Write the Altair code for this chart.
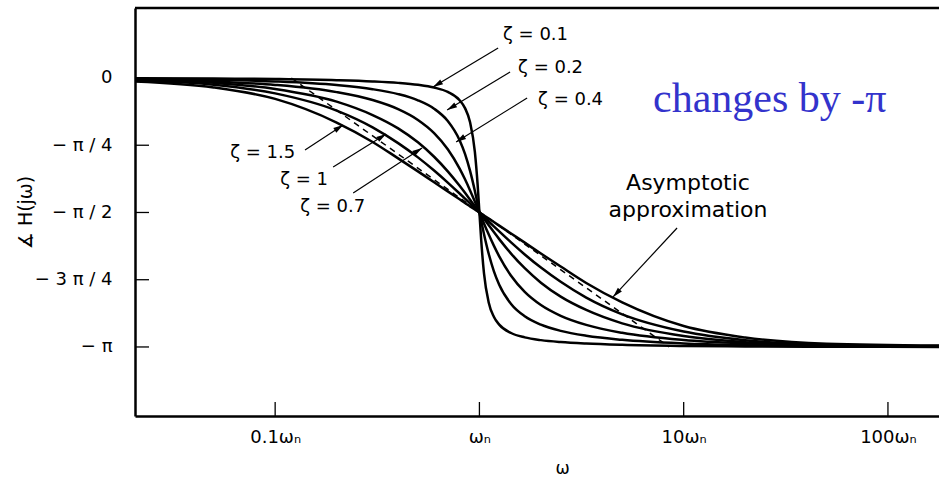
import altair as alt
import pandas as pd

# ---------------- data ----------------
omega = [0.02, 0.05, 0.1, 0.2, 0.3, 0.4, 0.5, 0.6, 0.7, 0.8, 0.85, 0.9, 0.95, 0.98, 1.0,
         1.0204, 1.0526, 1.1111, 1.1765, 1.25, 1.4286, 1.6667, 2.0, 2.5, 3.3333, 5.0,
         10.0, 20.0, 50.0, 180.0]

# phase in degrees (0 ... -180)
phase_z01 = [-0.14, -0.34, -0.69, -1.43, -2.27, -3.27, -4.57, -6.42, -9.35, -14.93, -20.18,
             -29.62, -49.46, -71.39, -90.0, -108.61, -130.54, -150.38, -159.82, -165.07,
             -170.65, -173.58, -175.43, -176.73, -177.73, -178.57, -179.31, -179.66, -179.86, -179.96]
phase_z02 = [-0.46, -1.15, -2.31, -4.76, -7.51, -10.78, -14.93, -20.56, -28.77, -41.63, -50.78,
             -62.18, -75.61, -84.23, -90.0, -95.77, -104.39, -117.82, -129.22, -138.37,
             -151.23, -159.44, -165.07, -169.22, -172.49, -175.24, -177.69, -178.85, -179.54, -179.87]
phase_z04 = [-0.92, -2.30, -4.62, -9.46, -14.77, -20.85, -28.07, -36.87, -47.68, -60.64, -67.80,
             -75.22, -82.69, -87.11, -90.0, -92.89, -97.31, -104.78, -112.20, -119.36,
             -132.32, -143.13, -151.93, -159.15, -165.23, -170.54, -175.38, -177.70, -179.08, -179.75]
phase_z07 = [-1.0, -3.2, -7.3, -15.8, -24.78, -33.69, -43.03, -52.70, -62.51, -72.18, -76.87,
             -81.42, -85.81, -88.35, -90.0, -91.65, -94.19, -98.58, -103.13, -107.82,
             -117.49, -127.30, -136.97, -146.31, -155.22, -164.2, -172.7, -176.8, -179.0, -179.55]
phase_z10 = [-1.5, -4.5, -10.3, -21.8, -33.0, -43.60, -53.13, -61.93, -69.98, -77.32, -80.73,
             -83.97, -87.06, -88.84, -90.0, -91.16, -92.94, -96.03, -99.27, -102.68,
             -110.02, -118.07, -126.87, -136.4, -147.0, -158.2, -169.7, -175.5, -178.5, -179.36]
phase_z15 = [-2.2, -6.3, -14.0, -29.8, -42.8, -53.8, -62.5, -69.8, -75.9, -81.2, -83.6,
             -85.9, -88.0, -89.2, -90.0, -90.8, -92.0, -94.1, -96.4, -98.8,
             -104.1, -110.2, -117.5, -126.2, -137.2, -150.2, -166.0, -173.7, -177.8, -179.05]

zeta_names = ["0.1", "0.2", "0.4", "0.7", "1", "1.5"]
zeta_phases = [phase_z01, phase_z02, phase_z04, phase_z07, phase_z10, phase_z15]

# asymptotic approximation (dashed)
asym_omega = [0.12, 8.5]
asym_phase = [0.0, -180.0]

# axis ticks
x_tick_values = [0.1, 1, 10, 100]
x_tick_labels = ["0.1ωₙ", "ωₙ", "10ωₙ", "100ωₙ"]
y_tick_values = [0, -45, -90, -135, -180]
y_tick_labels = ["0", "− π / 4", "− π / 2", "− 3 π / 4", "− π"]

# annotation labels
label_text = ["ζ = 0.1", "ζ = 0.2", "ζ = 0.4", "ζ = 1.5", "ζ = 1", "ζ = 0.7"]
label_omega = [1.306, 1.547, 1.938, 0.0603, 0.1059, 0.1326]
label_phase = [28.8, 6.7, -14.7, -50.2, -68.2, -86.3]

# arrows: start -> tip
arrow_w0 = [1.235, 1.413, 1.712, 0.140, 0.1923, 0.241, 9.28]
arrow_p0 = [20.1, 4.0, -13.4, -48.2, -59.5, -76.9, -100.4]
arrow_w1 = [0.593, 0.695, 0.769, 0.2153, 0.3495, 0.524, 4.51]
arrow_p1 = [-6.0, -21.4, -42.8, -31.4, -37.5, -46.8, -146.5]
arrow_angle = [239, 239, 238, 57, 58, 57, 223]

asym_text = ["Asymptotic", "approximation"]
asym_text_omega = [10.5, 10.5]
asym_text_phase = [-70.3, -88.3]

note_text = ["changes by -π"]
note_omega = [7.08]
note_phase = [-22.75]

# ---------------- build tables ----------------
rows = []
for name, ph in zip(zeta_names, zeta_phases):
    for w, p in zip(omega, ph):
        rows.append({"zeta": name, "w": w, "phase": p})
curves = pd.DataFrame(rows)
asym = pd.DataFrame({"w": asym_omega, "phase": asym_phase})
labels = pd.DataFrame({"text": label_text, "w": label_omega, "phase": label_phase})
arrows = pd.DataFrame({"w": arrow_w0, "phase": arrow_p0, "w1": arrow_w1, "p1": arrow_p1,
                       "angle": arrow_angle})
heads = pd.DataFrame({"w": arrow_w1, "phase": arrow_p1, "angle": arrow_angle})
asym_lbl = pd.DataFrame({"text": asym_text, "w": asym_text_omega, "phase": asym_text_phase})
note = pd.DataFrame({"text": note_text, "w": note_omega, "phase": note_phase})
xt = pd.DataFrame({"w": x_tick_values})
yt = pd.DataFrame({"phase": y_tick_values})

W, H = 804, 408
FONT = "DejaVu Sans"

xscale = alt.Scale(type="log", domain=[0.0206, 177.8], nice=False)
yscale = alt.Scale(domain=[-226.2, 46.84], nice=False, zero=False)


def expr(values, labels_):
    e = "''"
    for v, l in zip(reversed(values), reversed(labels_)):
        e = f"abs(datum.value - ({v})) < 1e-6 ? '{l}' : ({e})"
    return e


x_axis = alt.Axis(values=x_tick_values, labelExpr=expr(x_tick_values, x_tick_labels),
                  ticks=False, grid=False, domainColor="black", domainWidth=2.5,
                  labelFont=FONT, labelFontSize=18, labelColor="black", labelPadding=12,
                  labelOverlap=False, labelFlush=False,
                  title="ω", titleFont=FONT, titleFontSize=17, titleFontWeight="normal",
                  titleColor="black", titleX=427, titleY=52, titleBaseline="middle")
y_axis = alt.Axis(values=y_tick_values, labelExpr=expr(y_tick_values, y_tick_labels),
                  ticks=False, grid=False, domainColor="black", domainWidth=2.5,
                  labelFont=FONT, labelFontSize=18, labelColor="black", labelPadding=23,
                  labelOverlap=False, labelFlush=False,
                  title="∡ H(jω)", titleFont=FONT, titleFontSize=19, titleFontWeight="normal",
                  titleColor="black", titleX=-110, titleY=204, titleAngle=270,
                  titleAlign="center", titleBaseline="middle")

X = alt.X("w:Q", scale=xscale, axis=x_axis)
Y = alt.Y("phase:Q", scale=yscale, axis=y_axis)

curve_layer = alt.Chart(curves).mark_line(
    color="black", strokeWidth=2.5, interpolate="monotone", clip=True
).encode(x=X, y=Y, detail="zeta:N")

asym_layer = alt.Chart(asym).mark_line(
    color="black", strokeWidth=1.5, strokeDash=[6, 5]
).encode(x=X, y=Y)

xtick_layer = alt.Chart(xt).mark_rule(color="black", strokeWidth=1.3).encode(
    x=X, y=alt.value(H), y2=alt.value(H - 14))
ytick_layer = alt.Chart(yt).mark_rule(color="black", strokeWidth=1.3).encode(
    y=Y, x=alt.value(0), x2=alt.value(14))
top_border = alt.Chart(alt.Data(values=[{}])).mark_rule(color="black", strokeWidth=2.5).encode(
    x=alt.value(0), x2=alt.value(W), y=alt.value(0))

shaft_layer = alt.Chart(arrows).mark_rule(color="black", strokeWidth=1.2).encode(
    x=X, y=Y, x2="w1:Q", y2="p1:Q")
head_layer = alt.Chart(heads).mark_point(
    shape="M0,0L0.55,2L-0.55,2Z", filled=True, color="black", opacity=1, size=100, strokeWidth=0
).encode(x=X, y=Y, angle=alt.Angle("angle:Q", scale=None))

label_layer = alt.Chart(labels).mark_text(
    align="left", baseline="middle", font=FONT, fontSize=18, color="black"
).encode(x=X, y=Y, text="text:N")

asym_text_layer = alt.Chart(asym_lbl).mark_text(
    align="center", baseline="middle", font=FONT, fontSize=22, color="black"
).encode(x=X, y=Y, text="text:N")

note_layer = alt.Chart(note).mark_text(
    align="left", baseline="alphabetic", font="Liberation Serif", fontSize=42, color="#3333CC"
).encode(x=X, y=Y, text="text:N")

chart = alt.layer(
    curve_layer, asym_layer, xtick_layer, ytick_layer, top_border,
    shaft_layer, head_layer, label_layer, asym_text_layer, note_layer
).properties(
    width=W, height=H,
    padding={"left": 135, "top": 8, "right": 0, "bottom": 67},
    autosize=alt.AutoSizeParams(type="none"),
    background="white",
).configure_view(stroke=None)

chart.save("out.html", embed_options={"renderer": "svg", "actions": False})
